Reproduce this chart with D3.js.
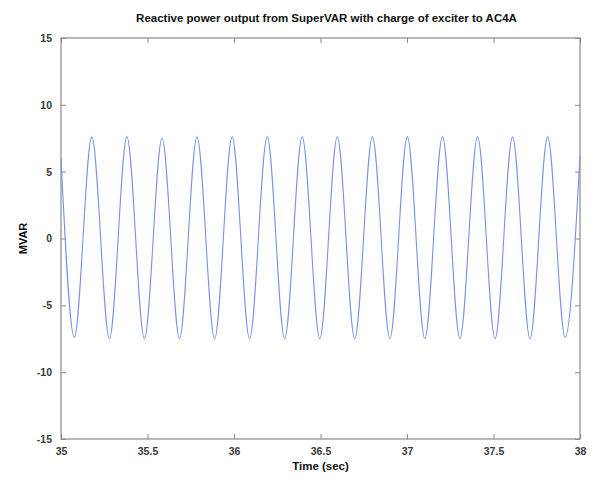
<!DOCTYPE html>
<html>
<head>
<meta charset="utf-8">
<script src="https://cdn.jsdelivr.net/npm/d3@7"></script>
<style>
  body { margin: 0; background: #fff; }
  text { font-family: "Liberation Sans", Arial, Helvetica, sans-serif; }
</style>
</head>
<body>
<svg id="chart" width="593" height="479"></svg>
<script>
// ---- data ----
const title = "Reactive power output from SuperVAR with charge of exciter to AC4A";
const xLabel = "Time (sec)";
const yLabel = "MVAR";
const xTicks = [35, 35.5, 36, 36.5, 37, 37.5, 38];
const yTicks = [-15, -10, -5, 0, 5, 10, 15];

// extrema of the oscillation (time in sec)
const timeSec = [
  35.000, 35.077, 35.178, 35.280, 35.381, 35.482, 35.584, 35.685, 35.786,
  35.888, 35.989, 36.090, 36.192, 36.293, 36.394, 36.496, 36.597, 36.698,
  36.800, 36.901, 37.002, 37.103, 37.205, 37.306, 37.408, 37.509, 37.610,
  37.711, 37.813, 37.914, 38.000
];
const mvar = [
  6.0, -7.4, 7.6, -7.5, 7.6, -7.5, 7.5, -7.5, 7.6,
  -7.5, 7.6, -7.5, 7.6, -7.5, 7.6, -7.5, 7.6, -7.5,
  7.6, -7.5, 7.6, -7.5, 7.6, -7.5, 7.6, -7.5, 7.6,
  -7.5, 7.6, -7.4, 6.2
];

// ---- drawing ----
const svg = d3.select("#chart");
const L = 61, R = 580, T = 38, B = 439;

const x = d3.scaleLinear().domain([35, 38]).range([L, R]);
const y = d3.scaleLinear().domain([-15, 15]).range([B, T]);

const axisColor = "#8a8a8a";
const labelColor = "#3a3a3a";
const fmt = d => String(d);

// plot frame
svg.append("rect")
  .attr("x", L).attr("y", T).attr("width", R - L).attr("height", B - T)
  .attr("fill", "#fff").attr("stroke", axisColor).attr("stroke-width", 1.2);

function styleAxis(g) {
  g.select(".domain").remove();
  g.selectAll(".tick line").attr("stroke", axisColor);
  g.selectAll(".tick text").attr("fill", labelColor).attr("font-size", 10.5).attr("font-weight", "bold");
}

// bottom axis (ticks inward)
svg.append("g").attr("transform", `translate(0,${B})`)
  .call(d3.axisBottom(x).tickValues(xTicks).tickFormat(fmt).tickSizeInner(-5).tickSizeOuter(0).tickPadding(9))
  .call(styleAxis);
// top axis ticks
svg.append("g").attr("transform", `translate(0,${T})`)
  .call(d3.axisTop(x).tickValues(xTicks).tickFormat("").tickSizeInner(-5).tickSizeOuter(0))
  .call(styleAxis);
// left axis
svg.append("g").attr("transform", `translate(${L},0)`)
  .call(d3.axisLeft(y).tickValues(yTicks).tickFormat(fmt).tickSizeInner(-5).tickSizeOuter(0).tickPadding(9))
  .call(styleAxis);
// right axis ticks
svg.append("g").attr("transform", `translate(${R},0)`)
  .call(d3.axisRight(y).tickValues(yTicks).tickFormat("").tickSizeInner(-5).tickSizeOuter(0))
  .call(styleAxis);

// signal
const pts = timeSec.map((t, i) => [t, mvar[i]]);
svg.append("path")
  .datum(pts)
  .attr("fill", "none")
  .attr("stroke", "#7393e4")
  .attr("stroke-width", 1.1)
  .attr("d", d3.line().x(d => x(d[0])).y(d => y(d[1])).curve(d3.curveMonotoneX));

// title
svg.append("text")
  .attr("x", (L + R) / 2 + 6).attr("y", 22)
  .attr("text-anchor", "middle").attr("font-size", 11.5).attr("font-weight", "bold").attr("fill", "#111")
  .text(title);

// x label
svg.append("text")
  .attr("x", (L + R) / 2).attr("y", 470)
  .attr("text-anchor", "middle").attr("font-size", 11.5).attr("font-weight", "bold").attr("fill", "#111")
  .text(xLabel);

// y label
svg.append("text")
  .attr("transform", `translate(27,${(T + B) / 2}) rotate(-90)`)
  .attr("text-anchor", "middle").attr("font-size", 11).attr("font-weight", "bold").attr("fill", "#111")
  .text(yLabel);
</script>
</body>
</html>
